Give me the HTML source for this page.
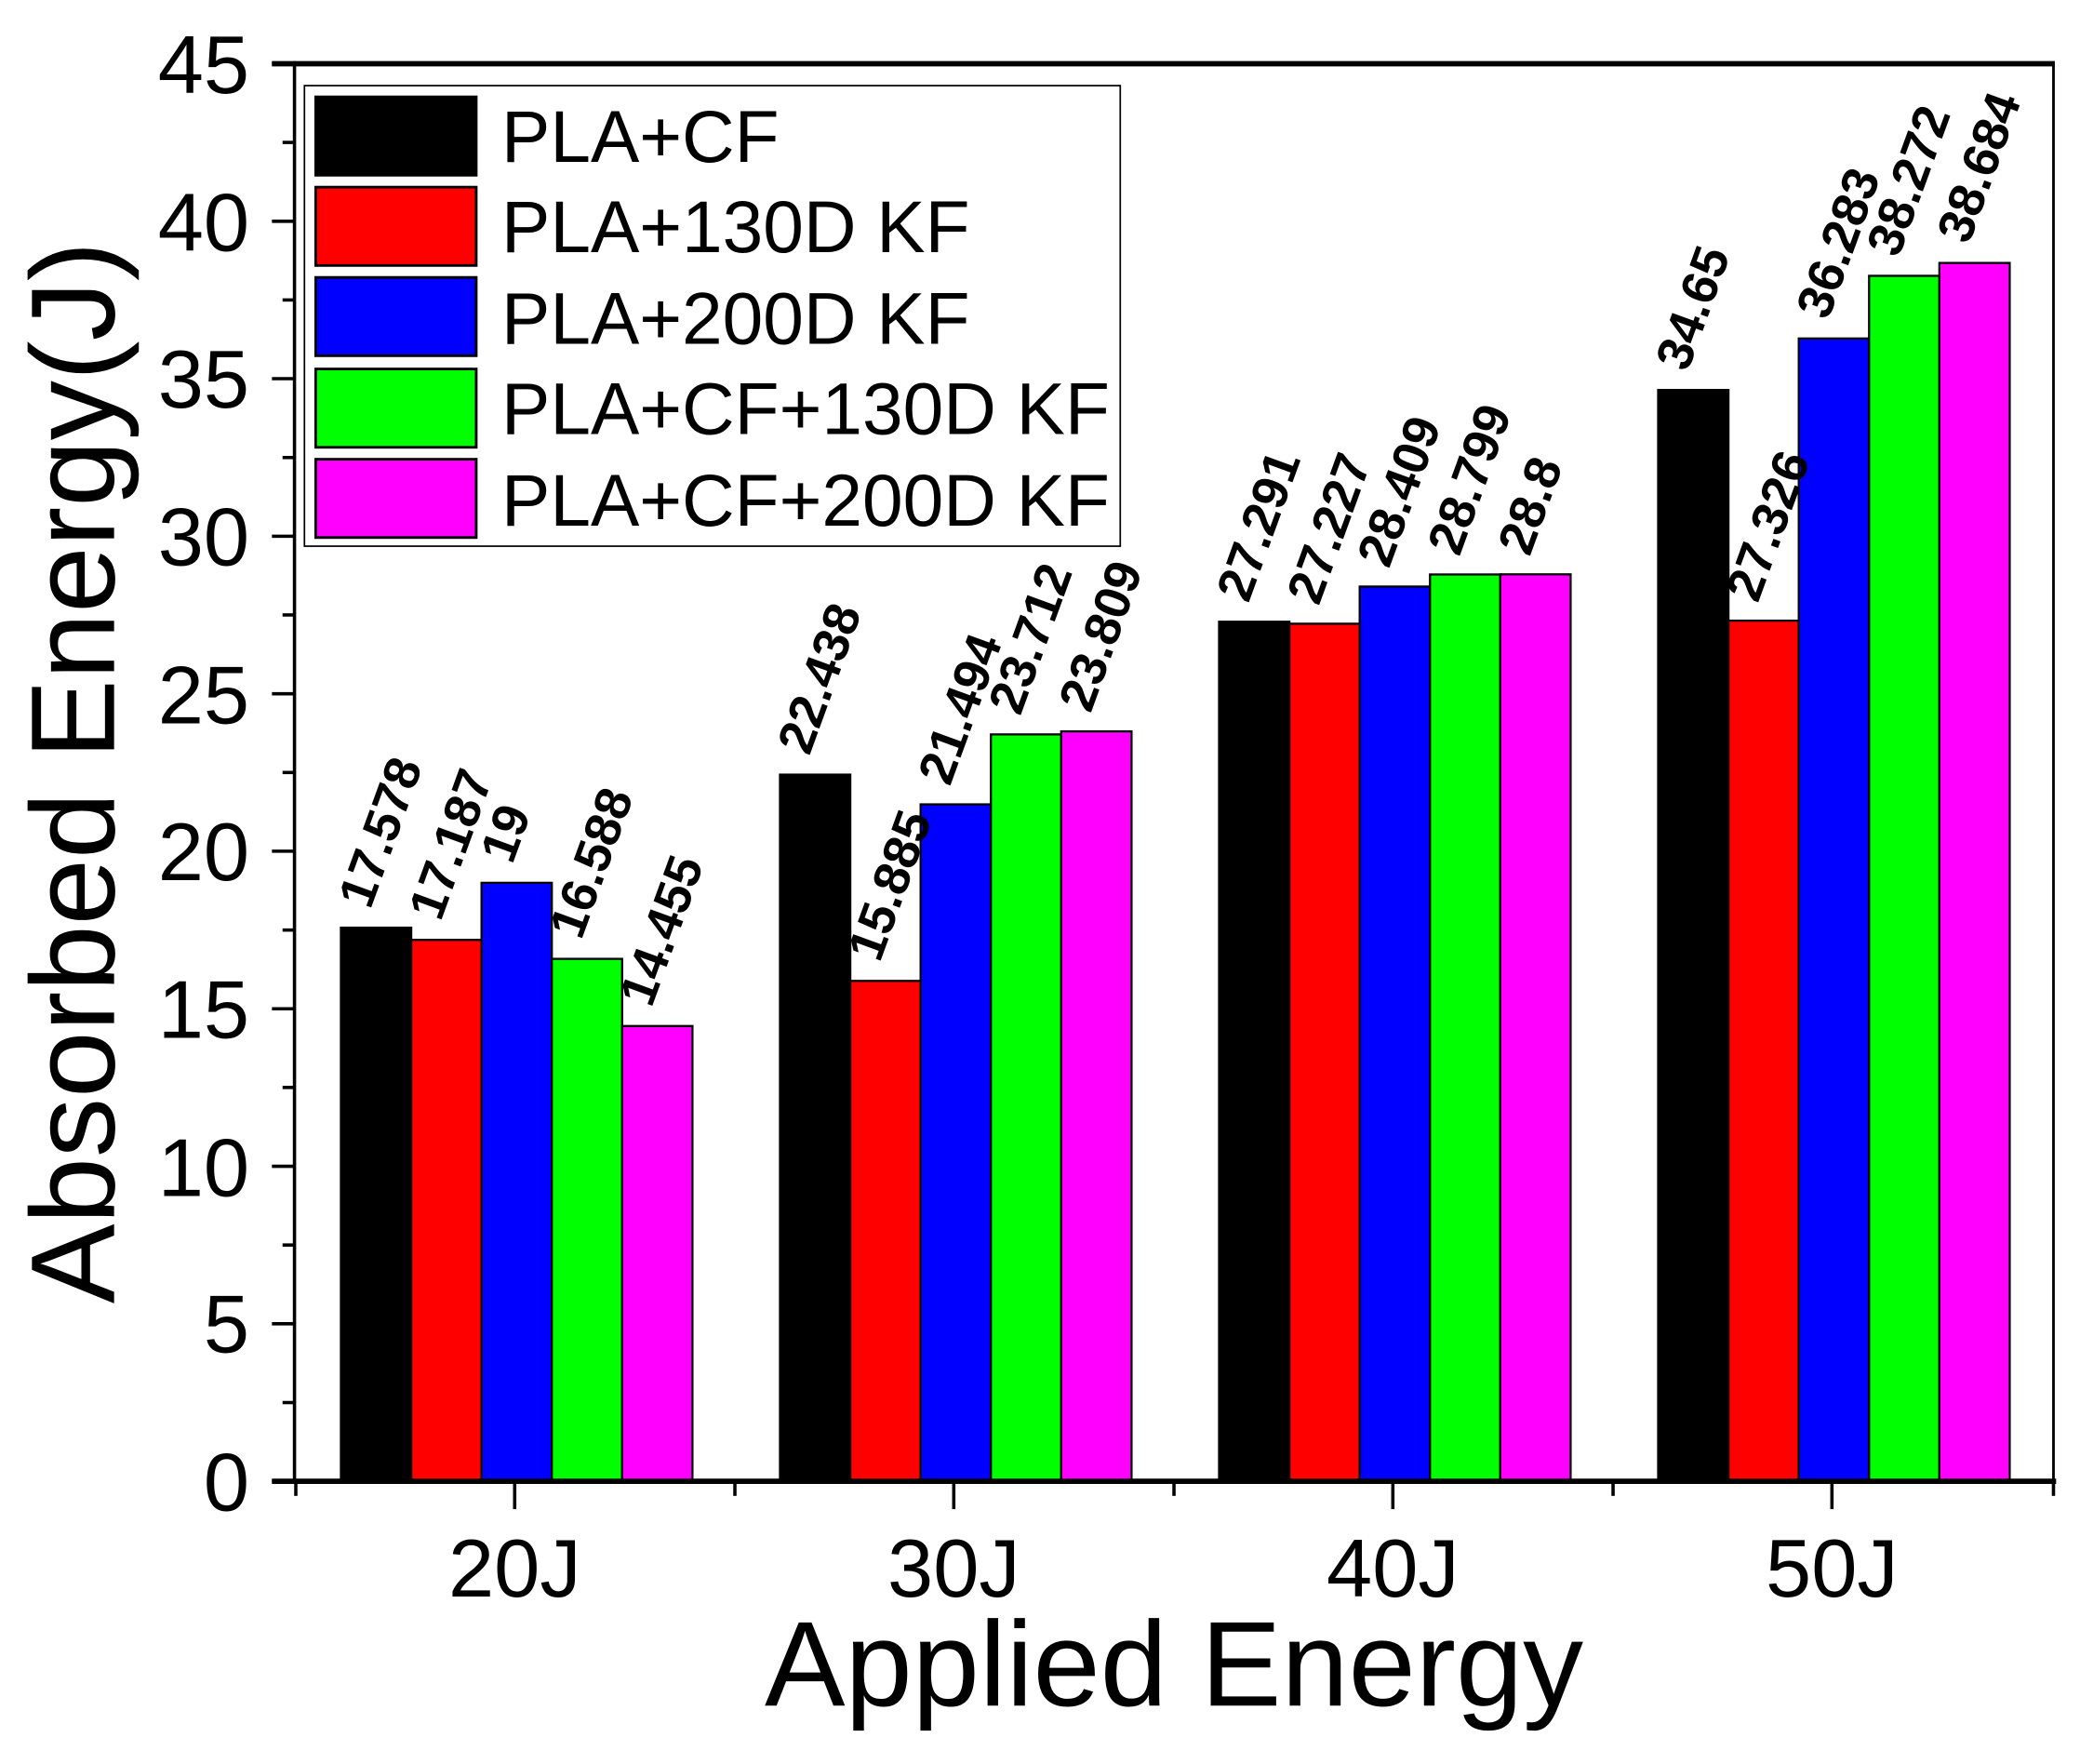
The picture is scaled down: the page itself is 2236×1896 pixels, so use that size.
<!DOCTYPE html>
<html><head><meta charset="utf-8"><style>html,body{margin:0;padding:0;background:#fff}svg{display:block}</style></head>
<body>
<svg width="2236" height="1896" viewBox="0 0 1568 1329" preserveAspectRatio="none" xmlns="http://www.w3.org/2000/svg" font-family="Liberation Sans, Arial, sans-serif">
<rect width="1568" height="1329" fill="#fff"/>
<g stroke="#000" stroke-width="1.6">
<rect x="257" y="698.9" width="53" height="417.1" fill="#000"/>
<rect x="310" y="708.1" width="53" height="407.9" fill="#f00"/>
<rect x="363" y="665.1" width="53" height="450.9" fill="#00f"/>
<rect x="416" y="722.4" width="53" height="393.6" fill="#0f0"/>
<rect x="469" y="773" width="53" height="343" fill="#f0f"/>
<rect x="588" y="583.6" width="53" height="532.4" fill="#000"/>
<rect x="641" y="739" width="53" height="377" fill="#f00"/>
<rect x="694" y="606" width="53" height="510" fill="#00f"/>
<rect x="747" y="553.3" width="53" height="562.7" fill="#0f0"/>
<rect x="800" y="551" width="53" height="565" fill="#f0f"/>
<rect x="919" y="468.4" width="53" height="647.6" fill="#000"/>
<rect x="972" y="469.9" width="53" height="646.1" fill="#f00"/>
<rect x="1025" y="441.9" width="53" height="674.1" fill="#00f"/>
<rect x="1078" y="432.8" width="53" height="683.2" fill="#0f0"/>
<rect x="1131" y="432.7" width="53" height="683.3" fill="#f0f"/>
<rect x="1250" y="293.8" width="53" height="822.2" fill="#000"/>
<rect x="1303" y="467.6" width="53" height="648.4" fill="#f00"/>
<rect x="1356" y="255" width="53" height="861" fill="#00f"/>
<rect x="1409" y="207.8" width="53" height="908.2" fill="#0f0"/>
<rect x="1462" y="198.1" width="53" height="917.9" fill="#f0f"/>
</g>
<g font-size="38" font-weight="bold" fill="#000">
<text transform="translate(279,686) rotate(-70)">17.578</text>
<text transform="translate(332,695) rotate(-70)">17.187</text>
<text transform="translate(386,652) rotate(-70)">19</text>
<text transform="translate(438,709) rotate(-70)">16.588</text>
<text transform="translate(491,760) rotate(-70)">14.455</text>
<text transform="translate(610,570) rotate(-70)">22.438</text>
<text transform="translate(663,726) rotate(-70)">15.885</text>
<text transform="translate(716,593) rotate(-70)">21.494</text>
<text transform="translate(769,540) rotate(-70)">23.712</text>
<text transform="translate(822,538) rotate(-70)">23.809</text>
<text transform="translate(941,455) rotate(-70)">27.291</text>
<text transform="translate(994,457) rotate(-70)">27.227</text>
<text transform="translate(1047,429) rotate(-70)">28.409</text>
<text transform="translate(1100,420) rotate(-70)">28.799</text>
<text transform="translate(1153,420) rotate(-70)">28.8</text>
<text transform="translate(1272,281) rotate(-70)">34.65</text>
<text transform="translate(1325,455) rotate(-70)">27.326</text>
<text transform="translate(1378,242) rotate(-70)">36.283</text>
<text transform="translate(1431,195) rotate(-70)">38.272</text>
<text transform="translate(1484,185) rotate(-70)">38.684</text>
</g>
<g stroke="#000">
<line x1="205" y1="48" x2="1549" y2="48" stroke-width="4"/>
<line x1="1548" y1="48" x2="1548" y2="1116" stroke-width="2"/>
<line x1="222" y1="46" x2="222" y2="1118" stroke-width="2.5"/>
<line x1="205" y1="1116" x2="1550" y2="1116" stroke-width="4"/>
</g>
<g stroke="#000" stroke-width="2.5">
<line x1="205" y1="48" x2="222" y2="48"/><line x1="205" y1="166.7" x2="222" y2="166.7"/><line x1="205" y1="285.3" x2="222" y2="285.3"/><line x1="205" y1="404" x2="222" y2="404"/><line x1="205" y1="522.7" x2="222" y2="522.7"/><line x1="205" y1="641.3" x2="222" y2="641.3"/><line x1="205" y1="760" x2="222" y2="760"/><line x1="205" y1="878.7" x2="222" y2="878.7"/><line x1="205" y1="997.3" x2="222" y2="997.3"/><line x1="205" y1="1116" x2="222" y2="1116"/>
<line x1="213" y1="107.3" x2="222" y2="107.3"/><line x1="213" y1="226" x2="222" y2="226"/><line x1="213" y1="344.7" x2="222" y2="344.7"/><line x1="213" y1="463.3" x2="222" y2="463.3"/><line x1="213" y1="582" x2="222" y2="582"/><line x1="213" y1="700.7" x2="222" y2="700.7"/><line x1="213" y1="819.3" x2="222" y2="819.3"/><line x1="213" y1="938" x2="222" y2="938"/><line x1="213" y1="1056.7" x2="222" y2="1056.7"/>
<line x1="388" y1="1116" x2="388" y2="1137"/><line x1="719" y1="1116" x2="719" y2="1137"/><line x1="1050" y1="1116" x2="1050" y2="1137"/><line x1="1381" y1="1116" x2="1381" y2="1137"/>
<line x1="223" y1="1116" x2="223" y2="1127"/><line x1="554" y1="1116" x2="554" y2="1127"/><line x1="885" y1="1116" x2="885" y2="1127"/><line x1="1216" y1="1116" x2="1216" y2="1127"/><line x1="1548" y1="1116" x2="1548" y2="1127"/>
</g>
<g font-size="62" text-anchor="end" fill="#000">
<text x="188" y="70">45</text><text x="188" y="189">40</text><text x="188" y="307">35</text><text x="188" y="426">30</text><text x="188" y="545">25</text><text x="188" y="663">20</text><text x="188" y="782">15</text><text x="188" y="901">10</text><text x="188" y="1019">5</text><text x="188" y="1138">0</text>
</g>
<g font-size="62" text-anchor="middle" fill="#000">
<text x="388" y="1203">20J</text><text x="719" y="1203">30J</text><text x="1050" y="1203">40J</text><text x="1381" y="1203">50J</text>
</g>
<text x="885" y="1285" font-size="91" text-anchor="middle">Applied Energy</text>
<text transform="translate(86,582) rotate(-90)" font-size="90" text-anchor="middle">Absorbed Energy(J)</text>
<rect x="229.5" y="64.5" width="615" height="347" fill="#fff" stroke="#000" stroke-width="1.2"/>
<g stroke="#000" stroke-width="2">
<rect x="238" y="73" width="121" height="59" fill="#000"/>
<rect x="238" y="141" width="121" height="59" fill="#f00"/>
<rect x="238" y="209" width="121" height="59" fill="#00f"/>
<rect x="238" y="278" width="121" height="59" fill="#0f0"/>
<rect x="238" y="346" width="121" height="59" fill="#f0f"/>
</g>
<g font-size="55" fill="#000">
<text x="378" y="122">PLA+CF</text>
<text x="378" y="190">PLA+130D KF</text>
<text x="378" y="259">PLA+200D KF</text>
<text x="378" y="327">PLA+CF+130D KF</text>
<text x="378" y="396">PLA+CF+200D KF</text>
</g>
</svg>
</body></html>
